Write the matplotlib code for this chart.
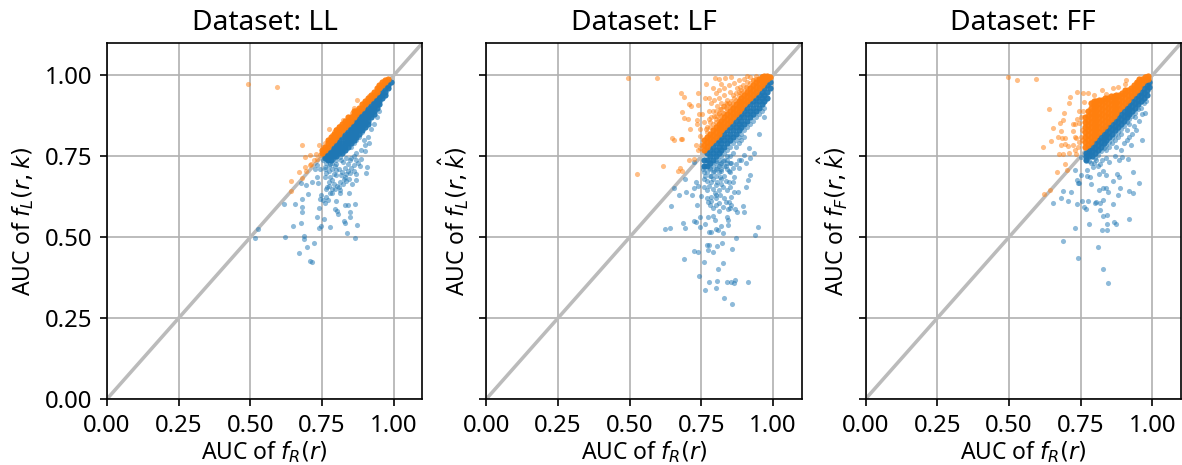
import matplotlib
matplotlib.use('Agg')
import matplotlib.pyplot as plt
import numpy as np

plt.rcParams['font.family'] = ['Noto Sans', 'DejaVu Sans']
plt.rcParams['mathtext.fontset'] = 'dejavusans'

titles = ['Dataset: LL', 'Dataset: LF', 'Dataset: FF']
ylabels = [r'AUC of $f_L(r, k)$', r'AUC of $f_L(r, \hat{k})$', r'AUC of $f_F(r, \hat{k})$']
xlabel = r'AUC of $f_R(r)$'
ticks = [0.0, 0.25, 0.5, 0.75, 1.0]

# scattered points, (x, y)
ll_blue = [(.527,.526),(.516,.499),(.622,.5),(.649,.534),(.678,.543),(.688,.504),(.688,.494),(.697,.469),
    (.723,.481),(.67,.45),(.707,.425),(.715,.424),(.741,.527),(.748,.535),(.777,.53),(.758,.555),(.731,.562),
    (.826,.55),(.829,.544),(.872,.538),(.837,.513),(.866,.498),(.847,.563),(.847,.577),(.806,.571),(.794,.586),
    (.802,.581),(.829,.598),(.84,.598),(.864,.601),(.616,.603),(.656,.603),(.681,.617),(.68,.594),(.681,.577),
    (.702,.632),(.74,.589),(.744,.617),(.759,.607),(.754,.614),(.765,.625),(.771,.616),(.748,.63),(.777,.637),
    (.8,.611),(.814,.635),(.845,.635),(.784,.65),(.767,.655),(.763,.65),(.773,.657),(.802,.657),(.812,.645),
    (.736,.667),(.693,.66),(.714,.669),(.677,.668),(.731,.687),(.765,.697),(.777,.685),(.783,.677),(.8,.692),
    (.817,.692),(.829,.687),(.847,.697),(.867,.678),(.835,.673),(.823,.663),(.814,.671),(.79,.695),(.8,.707),
    (.829,.715),(.842,.704),(.861,.705),(.862,.724),(.884,.721),(.907,.717),(.905,.698),(.886,.742),(.847,.737),
    (.823,.732),(.8,.727),(.777,.727),(.759,.717),(.742,.712),(.724,.712),(.733,.722),(.753,.737),(.788,.742),
    (.811,.747),(.834,.745),(.86,.75),(.9,.765),(.915,.79),(.9,.785),(.895,.8),(.885,.77),(.87,.76),(.93,.85),
    (.94,.87),(.95,.89),(.91,.81),(.89,.825),(.92,.835),
    (.775,.705),(.785,.712),(.795,.72),(.81,.71),(.82,.7),(.835,.695),(.85,.715),(.84,.725),(.815,.74),(.8,.74),
    (.79,.665),(.775,.67),(.76,.685),(.785,.635),(.795,.65),(.81,.655),(.825,.68),(.845,.68),(.855,.665),(.87,.695),
    (.77,.74),(.765,.73),(.775,.72),(.785,.73),(.76,.71),(.85,.745),(.87,.74),(.875,.73)]
ll_orange = [(.493,.974),(.594,.963),(.679,.785),(.707,.755),(.691,.747),(.728,.758),(.74,.784),(.744,.753),
    (.721,.738),(.733,.741),(.691,.717),(.707,.722),(.693,.705),(.713,.725),(.67,.701),(.681,.684),(.643,.674),
    (.641,.644),(.873,.925),(.774,.834),(.823,.863),(.876,.892),(.899,.915),(.928,.938),(.8,.835),(.783,.815),
    (.841,.866),(.755,.78),(.762,.79),(.79,.825),(.81,.845),(.855,.885),(.86,.9),(.915,.935)]
lf_blue = [(.857,.294),(.829,.311),(.763,.337),(.8,.343),(.777,.363),(.806,.364),(.84,.362),(.854,.362),(.867,.369),
    (.865,.359),(.911,.361),(.741,.379),(.807,.401),(.827,.42),(.759,.424),(.688,.434),(.723,.458),(.74,.453),
    (.773,.461),(.792,.455),(.858,.465),(.822,.482),(.804,.472),(.769,.477),(.776,.477),(.872,.499),(.937,.508),
    (.949,.531),(.622,.525),(.64,.528),(.693,.528),(.687,.543),(.723,.549),(.732,.546),(.747,.532),(.761,.542),
    (.776,.516),(.784,.517),(.802,.524),(.809,.522),(.825,.513),(.819,.535),(.842,.538),(.796,.552),(.773,.563),
    (.744,.563),(.811,.581),(.79,.566),(.839,.563),(.842,.552),(.866,.588),(.875,.578),(.9,.577),(.894,.596),
    (.735,.598),(.643,.596),(.671,.631),(.696,.64),(.655,.653),(.693,.68),(.716,.631),(.726,.653),(.731,.671),
    (.739,.657),(.749,.627),(.776,.657),(.769,.622),(.773,.609),(.784,.612),(.802,.63),(.813,.606),(.825,.594),
    (.842,.588),(.836,.609),(.854,.624),(.877,.64),(.865,.64),(.906,.654),(.914,.678),(.92,.692),(.825,.655),
    (.813,.645),(.796,.635),(.848,.671),(.725,.733),(.762,.69),(.77,.675),(.785,.67),(.8,.66),(.815,.685),
    (.84,.645),(.83,.69),(.85,.7),(.865,.685),(.88,.715),(.905,.73),(.935,.76),(.92,.745),(.95,.82),(.97,.87),
    (.755,.71),(.765,.72),(.775,.735),(.785,.69),(.795,.705),(.805,.715),(.815,.725),(.825,.735),(.835,.72),(.845,.705),
    (.855,.73),(.87,.725),(.88,.74),(.79,.65),(.805,.67),(.82,.665),(.835,.675),(.85,.655),(.86,.67),(.8,.62),
    (.815,.63),(.83,.62),(.845,.61),(.78,.6),(.79,.59),(.8,.6),(.855,.6),(.85,.59),(.76,.655),(.77,.645),
    (.785,.625),(.76,.72),(.78,.715),(.8,.735),(.82,.705),(.84,.74),(.86,.715),(.89,.74),(.9,.755),(.915,.775)]
lf_orange = [(.494,.992),(.594,.992),(.796,.992),(.813,.99),(.834,.993),(.853,.995),(.91,.999),(.767,.972),(.82,.974),
    (.679,.947),(.691,.933),(.74,.945),(.763,.931),(.778,.931),(.706,.913),(.715,.904),(.74,.907),(.681,.887),
    (.741,.882),(.753,.882),(.688,.869),(.702,.865),(.734,.863),(.734,.849),(.71,.834),(.744,.835),(.648,.808),
    (.653,.799),(.68,.803),(.683,.803),(.744,.812),(.73,.784),(.744,.777),(.739,.769),(.708,.74),(.723,.743),
    (.617,.72),(.676,.715),(.668,.705),(.682,.703),(.527,.694),(.749,.784),(.79,.96),(.8,.945),(.81,.955),
    (.83,.96),(.845,.97),(.865,.975),(.88,.985),(.9,.99),(.92,.995),(.94,.998),(.96,.999),(.975,.998),
    (.785,.915),(.795,.925),(.81,.93),(.83,.94),(.85,.95),(.875,.96),(.895,.97),(.91,.98),(.93,.985),
    (.76,.855),(.775,.89),(.765,.835),(.775,.865),(.79,.89),(.805,.905),(.82,.915),(.84,.925),(.86,.94),(.89,.955),
    (.77,.84),(.78,.855),(.785,.87),(.795,.875),(.8,.865),(.81,.88),(.815,.895),(.825,.885),(.835,.9),(.845,.915),
    (.855,.92),(.865,.93),(.87,.945),(.88,.95),(.835,.915),(.825,.905),(.8,.89),(.855,.905),(.885,.965),(.905,.965)]
ff_blue = [(.847,.357),(.828,.403),(.74,.436),(.81,.47),(.689,.488),(.729,.529),(.78,.541),(.825,.522),(.843,.523),
    (.843,.541),(.865,.548),(.874,.541),(.918,.557),(.827,.565),(.841,.569),(.763,.594),(.769,.587),(.818,.585),
    (.864,.602),(.655,.607),(.681,.62),(.688,.644),(.707,.613),(.716,.641),(.738,.603),(.753,.611),(.777,.613),
    (.799,.606),(.804,.609),(.816,.606),(.827,.616),(.879,.631),(.92,.644),(.933,.638),(.887,.651),(.955,.668),
    (.933,.702),(.864,.673),(.839,.653),(.829,.653),(.813,.645),(.845,.64),(.787,.665),(.746,.666),(.737,.678),
    (.74,.668),(.752,.691),(.771,.688),(.781,.686),(.813,.696),(.829,.705),(.839,.691),(.877,.696),(.883,.686),
    (.729,.707),(.771,.707),(.792,.717),(.816,.727),(.85,.733),(.885,.74),(.914,.742),(.769,.743),(.787,.729),
    (.804,.738),(.752,.748),(.78,.735),(.795,.73),(.81,.72),(.825,.74),(.84,.745),(.87,.75),(.895,.748),
    (.964,.799),(.943,.83),(.974,.884),(.978,.921),(.926,.784),(.9,.79),(.875,.78),(.92,.81),(.935,.845),
    (.955,.86),(.965,.88),(.93,.82),(.91,.8),(.89,.77)]
ff_orange = [(.497,.995),(.528,.985),(.595,.989),(.713,.934),(.739,.948),(.758,.945),(.777,.947),(.708,.915),(.64,.897),
    (.691,.885),(.743,.889),(.688,.861),(.677,.853),(.653,.836),(.68,.828),(.723,.849),(.732,.849),(.737,.866),
    (.746,.853),(.723,.827),(.67,.81),(.684,.808),(.694,.807),(.731,.81),(.734,.805),(.648,.796),(.617,.78),
    (.682,.784),(.694,.789),(.706,.782),(.725,.784),(.74,.779),(.746,.794),(.732,.769),(.676,.758),(.688,.758),
    (.71,.759),(.734,.756),(.668,.701),(.702,.707),(.696,.725),(.642,.647),(.621,.633),(.908,.987),(.862,.962),
    (.879,.964),(.839,.943),(.825,.954),(.903,.972),(.943,.979),(.978,.997),(.798,.938),(.763,.918),(.75,.87),
    (.755,.83),(.75,.81),(.755,.8),(.758,.89)]

# dense parts, written as (x, [y, ...]) columns
ll_blue_dense = [(.76,[.75,.745]),(.77,[.76,.75,.74]),(.78,[.77,.76,.75,.74]),(.79,[.78,.77,.76,.75]),
    (.80,[.79,.78,.77,.76,.75]),(.81,[.80,.79,.78,.77,.76]),(.82,[.81,.79,.78,.77,.76]),
    (.83,[.82,.81,.80,.79,.78,.77]),(.84,[.83,.82,.81,.80,.79,.78]),(.85,[.84,.83,.82,.81,.80,.79,.78]),
    (.86,[.85,.84,.83,.82,.81,.80,.79]),(.87,[.86,.85,.84,.83,.82,.81,.80]),(.88,[.87,.86,.85,.84,.83,.82,.81]),
    (.89,[.88,.87,.86,.85,.84,.83]),(.90,[.89,.88,.87,.86,.85,.84]),(.91,[.90,.89,.88,.87,.86,.85]),
    (.92,[.91,.90,.89,.88,.87]),(.93,[.92,.91,.90,.89,.88]),(.94,[.93,.92,.91,.90]),(.95,[.94,.93,.92,.91]),
    (.96,[.95,.94,.93]),(.97,[.96,.95,.94]),(.98,[.97,.96]),(.99,[.98])]
ll_orange_dense = [(.75,[.76,.77]),(.76,[.77,.78]),(.77,[.78,.79,.80]),(.78,[.79,.80,.81]),(.79,[.80,.81,.82]),
    (.80,[.81,.82,.83]),(.81,[.82,.83,.84]),(.82,[.83,.84,.85]),(.83,[.84,.85,.86]),(.84,[.85,.86,.87]),
    (.85,[.86,.87]),(.86,[.87,.88,.89]),(.87,[.88,.89]),(.88,[.89,.90]),(.89,[.90,.91]),(.90,[.91,.92]),
    (.91,[.92,.93]),(.92,[.93,.94]),(.93,[.94,.95]),(.94,[.95,.96]),(.95,[.96,.97]),(.96,[.97,.98]),
    (.97,[.98,.985]),(.98,[.99])]
lf_blue_dense = [(.76,[.74,.72,.70,.68]),(.77,[.76,.74,.72,.70]),(.78,[.77,.75,.73,.71,.69]),(.79,[.78,.76,.74,.72,.70,.68]),
    (.80,[.79,.77,.75,.73,.71,.69]),(.81,[.80,.78,.76,.74,.72,.70]),(.82,[.81,.79,.77,.75,.73,.71,.68]),
    (.83,[.82,.80,.78,.76,.74,.72]),(.84,[.83,.81,.79,.77,.75,.73,.71]),(.85,[.84,.82,.80,.78,.75,.73]),
    (.86,[.85,.83,.81,.79,.76]),(.87,[.86,.84,.82,.80,.78]),(.88,[.87,.85,.83,.81,.79]),(.89,[.88,.86,.84,.82,.80]),
    (.90,[.89,.87,.85,.83,.81]),(.91,[.90,.88,.86,.84]),(.92,[.91,.89,.87,.85]),(.93,[.92,.90,.88,.86]),
    (.94,[.93,.91,.89,.87]),(.95,[.94,.92,.90,.88]),(.96,[.95,.93,.91,.89]),(.97,[.96,.94,.92,.90]),
    (.98,[.97,.95,.93]),(.99,[.98,.96])]
lf_orange_dense = [(.76,[.77,.785,.80]),(.77,[.78,.795,.81,.825]),(.78,[.79,.805,.82,.84]),(.79,[.80,.815,.83,.85]),
    (.80,[.81,.825,.84,.855,.875]),(.81,[.82,.835,.85,.865,.885]),(.82,[.83,.845,.86,.875,.895]),
    (.83,[.84,.855,.87,.885,.905]),(.84,[.85,.865,.88,.895,.91]),(.85,[.86,.875,.89,.905]),
    (.86,[.87,.885,.90,.915]),(.87,[.88,.895,.91,.925]),(.88,[.89,.905,.92,.935]),(.89,[.90,.915,.93,.945]),
    (.90,[.91,.925,.94,.955]),(.91,[.92,.935,.95,.965]),(.92,[.93,.945,.96,.975]),(.93,[.94,.955,.97,.985]),
    (.94,[.95,.965,.98,.99]),(.95,[.96,.975,.99]),(.96,[.97,.985,.995]),(.97,[.98,.99,.998]),(.98,[.99,.998]),(.99,[.995])]
ff_blue_dense = [(.77,[.76,.75,.74]),(.78,[.77,.76,.75]),(.79,[.78,.765,.75]),(.80,[.79,.775,.76,.745]),
    (.81,[.80,.785,.77,.755]),(.82,[.81,.795,.78,.765]),(.83,[.82,.805,.79,.775]),(.84,[.83,.815,.80,.785,.77]),
    (.85,[.84,.825,.81,.795,.78]),(.86,[.85,.835,.82,.805,.79]),(.87,[.86,.845,.83,.815,.80]),(.88,[.87,.855,.84,.825,.81]),
    (.89,[.88,.865,.85,.835,.82]),(.90,[.89,.875,.86,.845]),(.91,[.90,.885,.87,.855,.83]),(.92,[.91,.895,.88,.865,.85]),
    (.93,[.92,.905,.89,.875]),(.94,[.93,.915,.90,.885,.87]),(.95,[.94,.925,.91,.895]),(.96,[.95,.935,.92,.90]),
    (.97,[.96,.945,.93,.915]),(.98,[.97,.955,.94]),(.99,[.98,.965])]
ff_orange_dense = [(.765,[.78,.795,.81,.825,.84,.855,.87]),(.775,[.785,.80,.815,.83,.845,.86,.875,.89]),
    (.785,[.795,.81,.825,.84,.855,.87,.885,.90,.915]),(.795,[.805,.82,.835,.85,.865,.88,.895,.91,.92]),
    (.805,[.815,.83,.845,.86,.875,.89,.905,.92]),(.815,[.825,.84,.855,.87,.885,.90,.915,.925]),
    (.825,[.835,.85,.865,.88,.895,.91,.925]),(.835,[.845,.86,.875,.89,.905,.92,.93]),
    (.845,[.855,.87,.885,.90,.915,.93]),(.855,[.865,.88,.895,.91,.925,.935]),(.865,[.875,.89,.905,.92,.935]),
    (.875,[.885,.90,.915,.93,.94]),(.885,[.895,.91,.925,.94]),(.895,[.905,.92,.935,.945]),(.905,[.915,.93,.945,.955]),
    (.915,[.925,.94,.955]),(.925,[.935,.95,.96]),(.935,[.945,.96,.97]),(.945,[.955,.97,.98]),(.955,[.965,.98,.99]),
    (.965,[.975,.99]),(.975,[.985,.995]),(.985,[.99,.998])]

# how far from the diagonal the dense parts stay solid: blue, orange
core_width = [(.062, .032), (.052, .047), (.046, .2)]


def columns_to_array(columns):
    return np.array([(x, y) for x, ys in columns for y in ys])


def draw_points(ax, scattered, dense, width, color):
    pts = np.array(scattered)
    dense = columns_to_array(dense)
    solid = np.abs(dense[:, 1] - dense[:, 0]) <= width
    pts = np.vstack([pts, dense[~solid]])
    ax.scatter(pts[:, 0], pts[:, 1], s=6, c=color, alpha=0.5, linewidths=0, zorder=2)
    ax.scatter(dense[solid, 0], dense[solid, 1], s=9, c=color, alpha=0.95, linewidths=0, zorder=2)


panels = [
    (ll_blue, ll_blue_dense, ll_orange, ll_orange_dense),
    (lf_blue, lf_blue_dense, lf_orange, lf_orange_dense),
    (ff_blue, ff_blue_dense, ff_orange, ff_orange_dense),
]

fig, axes = plt.subplots(1, 3, figsize=(7.88, 3.1), dpi=150, sharey=True)
fig.subplots_adjust(left=107/1182, right=1181/1182, top=1-43/465, bottom=1-399/465, wspace=64/316)

for i, ax in enumerate(axes):
    blue, blue_dense, orange, orange_dense = panels[i]
    ax.set_axisbelow(True)
    ax.grid(True, color='#b0b0b0', linewidth=0.8)
    ax.plot([0, 1.1], [0, 1.1], color='#bbbbbb', linewidth=1.7, zorder=1)
    draw_points(ax, blue, blue_dense, core_width[i][0], 'tab:blue')
    draw_points(ax, orange, orange_dense, core_width[i][1], 'tab:orange')
    ax.set_xlim(0, 1.1)
    ax.set_ylim(0, 1.1)
    ax.set_xticks(ticks)
    ax.set_yticks(ticks)
    ax.set_xticklabels(['%.2f' % t for t in ticks])
    ax.tick_params(labelsize=11.5)
    ax.set_title(titles[i], fontsize=13.5, pad=6)
    ax.set_xlabel(xlabel, fontsize=11, labelpad=1)
    ax.set_ylabel(ylabels[i], fontsize=11, labelpad=4)
    ax.yaxis.set_tick_params(labelleft=i == 0)

axes[0].set_yticklabels(['%.2f' % t for t in ticks])

fig.savefig('out.png', dpi=150)
